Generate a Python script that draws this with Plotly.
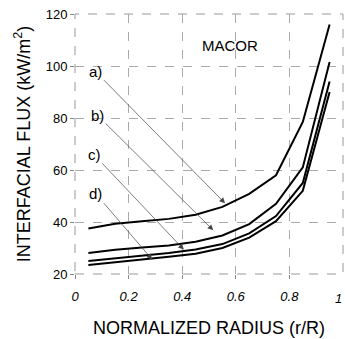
import plotly.graph_objects as go

radius = [0.05, 0.15, 0.25, 0.35, 0.45, 0.55, 0.65, 0.75, 0.85, 0.95]
flux_a = [37.5, 39.3, 40.3, 41.2, 42.8, 45.8, 50.8, 58.0, 78.5, 116.0]
flux_b = [28.1, 29.3, 30.2, 31.0, 32.4, 34.8, 39.2, 47.0, 61.0, 101.5]
flux_c = [25.0, 26.0, 27.2, 28.1, 29.4, 31.5, 35.6, 42.3, 55.0, 94.0]
flux_d = [23.5, 24.5, 25.5, 26.6, 27.8, 30.0, 34.0, 40.3, 52.0, 90.0]
series = [("a)", flux_a), ("b)", flux_b), ("c)", flux_c), ("d)", flux_d)]

# label position and arrow tip (data coords)
labels = ["a)", "b)", "c)", "d)"]
label_x = [0.078, 0.085, 0.072, 0.078]
label_y = [97.7, 80.9, 65.8, 50.8]
tip_x = [0.560, 0.516, 0.406, 0.288]
tip_y = [47.2, 36.8, 29.4, 25.6]

x_ticks = [0, 0.2, 0.4, 0.6, 0.8]
x_tick_text = ["0", "0.2", "0.4", "0.6", "0.8"]
x_last_tick = "1"
y_ticks = [20, 40, 60, 80, 100, 120]

FONT = "Liberation Sans, Arial, sans-serif"

fig = go.Figure()
for name, ys in series:
    fig.add_trace(go.Scatter(x=radius, y=ys, mode="lines", name=name,
                             line=dict(color="black", width=2), showlegend=False))

annotations = []
for i, lab in enumerate(labels):
    annotations.append(dict(x=tip_x[i], y=tip_y[i], ax=label_x[i], ay=label_y[i],
                            xref="x", yref="y", axref="x", ayref="y",
                            text=lab, showarrow=True, arrowhead=2, arrowsize=1.6,
                            arrowwidth=0.7, arrowcolor="#444444",
                            font=dict(family=FONT, size=15, color="black")))
annotations.append(dict(x=0.58, y=108, xref="x", yref="y", text="MACOR",
                        showarrow=False, font=dict(family=FONT, size=15, color="black")))
# last x tick label sits on the right edge of the figure
annotations.append(dict(x=1, y=20, xref="x", yref="y", text=x_last_tick, showarrow=False,
                        xanchor="right", yanchor="top", yshift=-15, xshift=1,
                        font=dict(family=FONT, size=13, style="italic", color="black")))

fig.update_layout(
    width=345, height=339,
    margin=dict(l=75, r=2, t=14, b=65),
    paper_bgcolor="white", plot_bgcolor="white",
    font=dict(family=FONT, color="black"),
    annotations=annotations,
    shapes=[dict(type="rect", xref="paper", yref="paper", x0=0, y0=0, x1=1, y1=1,
                 line=dict(color="#999999", width=1, dash="dash"), layer="below")],
    xaxis=dict(range=[0, 1], tickvals=x_ticks, ticktext=x_tick_text,
               showgrid=True, gridcolor="#aaaaaa", griddash="dash", gridwidth=1,
               zeroline=False, showline=False, ticks="outside", ticklen=4,
               tickcolor="#888888", ticklabelstandoff=6,
               tickfont=dict(family=FONT, size=13, style="italic"),
               title=dict(text="NORMALIZED RADIUS (r/R)", font=dict(family=FONT, size=18),
                          standoff=18)),
    yaxis=dict(range=[20, 120], tickvals=y_ticks,
               showgrid=True, gridcolor="#aaaaaa", griddash="dash", gridwidth=1,
               zeroline=False, showline=False, ticks="outside", ticklen=4,
               tickcolor="#888888", tickfont=dict(family=FONT, size=13),
               title=dict(text="INTERFACIAL FLUX (kW/m<sup>2</sup>)",
                          font=dict(family=FONT, size=18), standoff=10)),
)

fig.write_html("out.html")
